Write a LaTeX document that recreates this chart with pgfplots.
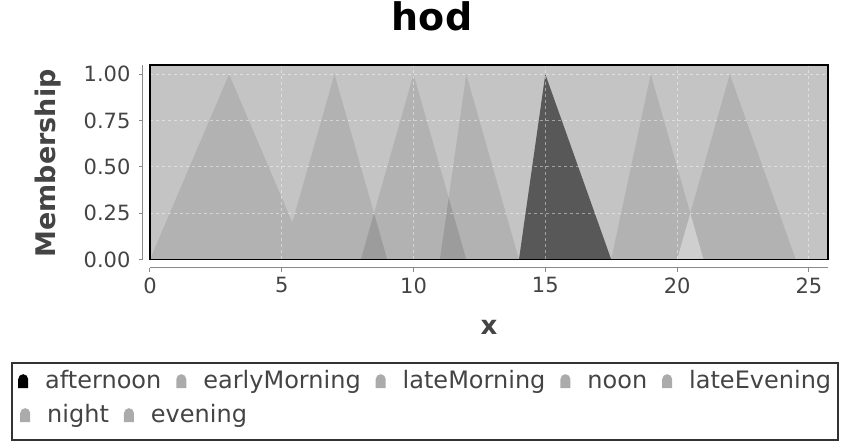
\documentclass[border=0pt]{standalone}
\usepackage{fontspec}
\setmainfont{DejaVu Sans}
\usepackage{pgfplots}
\pgfplotsset{compat=1.18}
\definecolor{plotbg}{HTML}{C4C4C4}
\definecolor{tri}{HTML}{B2B2B2}
\definecolor{ovdark}{HTML}{9C9C9C}
\definecolor{ovlight}{HTML}{CFCFCF}
\definecolor{aftcol}{HTML}{585858}
\definecolor{markgray}{HTML}{ABABAB}
\definecolor{axisgray}{HTML}{8A8A8A}
\definecolor{tickgray}{HTML}{444444}
\pgfplotsset{
  mylegend/.style={
    legend cell align=left,
    legend image code/.code={\fill (0pt,-6pt) -- (0pt,3pt) arc[start angle=180,end angle=0,radius=5pt] -- (10pt,-6pt) -- cycle;},
    legend style={anchor=north west, draw=none, fill=none, inner sep=0pt,
      font=\fontsize{24}{28}\selectfont, text=tickgray,
      nodes={inner xsep=0pt, inner ysep=0pt, text height=17pt, text depth=5pt},
      /tikz/every odd column/.style={column sep=17pt},
      /tikz/every even column/.style={column sep=15pt}},
  }
}
\begin{document}
\begin{tikzpicture}[x=1pt,y=1pt]
\useasboundingbox (0,0) rectangle (843,441);
\begin{axis}[
  at={(150pt,181.5pt)}, anchor=south west,
  scale only axis, width=678pt, height=194.5pt,
  xmin=0, xmax=25.725, ymin=0, ymax=1.05,
  axis background/.style={fill=plotbg},
  axis x line=bottom, axis y line=left,
  axis line style={-, draw=axisgray, line width=1pt},
  axis x line shift=8.5pt, axis y line shift=7pt,
  xtick={0,5,10,15,20,25},
  ytick={0,0.25,0.5,0.75,1},
  yticklabels={0.00,0.25,0.50,0.75,1.00},
  tick align=outside, major tick length=4pt,
  tick style={axisgray, line width=1pt},
  /pgf/number format/assume math mode=true,
  ticklabel style={font=\fontsize{21}{24}\selectfont, text=tickgray},
  yticklabel style={xshift=-5pt},
  xticklabel style={yshift=-2pt},
  grid=major, grid style={white, dashed, line width=0.8pt, opacity=0.45},
  axis on top,
  title=hod,
  title style={font=\fontsize{38}{40}\selectfont\bfseries, at={(axis description cs:0.416,1.144)}, anchor=base},
  ylabel=Membership,
  ylabel style={font=\fontsize{27}{30}\selectfont\bfseries, text=tickgray, at={(axis description cs:-0.150,0.494)}, anchor=center},
  xlabel=x,
  xlabel style={font=\fontsize{26}{30}\selectfont\bfseries, text=tickgray, at={(axis description cs:0.5,-0.347)}, anchor=center},
  mylegend,
  legend columns=5,
  legend style={at={(axis description cs:-0.1947,-0.5733)}},
  after end axis/.code={
    \draw[black, line width=1.6pt] (rel axis cs:0,0) rectangle (rel axis cs:1,1);
    \draw[black!80, line width=1.6pt] (axis description cs:-0.2035,-0.5321) rectangle (axis description cs:1.0147,-0.928);
  },
]
% data series (triangular membership functions)
\addplot[fill=aftcol, draw=none, forget plot] coordinates {(14,0) (15,1) (17.5,0)} \closedcycle;
\addplot[fill=tri, draw=none, forget plot] coordinates {(5,0) (7,1) (9,0)} \closedcycle;
\addplot[fill=tri, draw=none, forget plot] coordinates {(8,0) (10,1) (12,0)} \closedcycle;
\addplot[fill=tri, draw=none, forget plot] coordinates {(11,0) (12,1) (14,0)} \closedcycle;
\addplot[fill=tri, draw=none, forget plot] coordinates {(20,0) (22,1) (24.5,0)} \closedcycle;
\addplot[fill=tri, draw=none, forget plot] coordinates {(0,0) (3,1) (6,0)} \closedcycle;
\addplot[fill=tri, draw=none, forget plot] coordinates {(17.5,0) (19,1) (21,0)} \closedcycle;
% overlap regions
\addplot[fill=ovdark, draw=none, forget plot] coordinates {(8,0) (8.5,0.25) (9,0)} \closedcycle;
\addplot[fill=ovdark, draw=none, forget plot] coordinates {(11,0) (11.333,0.333) (12,0)} \closedcycle;
\addplot[fill=ovlight, draw=none, forget plot] coordinates {(20,0) (20.5,0.25) (21,0)} \closedcycle;
% legend row 1
\addlegendimage{fill=black, draw=none}
\addlegendentry{afternoon}
\addlegendimage{fill=markgray, draw=none}
\addlegendentry{earlyMorning}
\addlegendimage{fill=markgray, draw=none}
\addlegendentry{lateMorning}
\addlegendimage{fill=markgray, draw=none}
\addlegendentry{noon}
\addlegendimage{fill=markgray, draw=none}
\addlegendentry{lateEvening}
\end{axis}
\begin{axis}[
  at={(150pt,181.5pt)}, anchor=south west,
  scale only axis, width=678pt, height=194.5pt,
  xmin=0, xmax=1, ymin=0, ymax=1,
  hide axis,
  mylegend,
  legend columns=2,
  legend style={at={(axis description cs:-0.1917,-0.748)}},
]
\addlegendimage{fill=markgray, draw=none}
\addlegendentry{night}
\addlegendimage{fill=markgray, draw=none}
\addlegendentry{evening}
\end{axis}
\end{tikzpicture}
\end{document}
